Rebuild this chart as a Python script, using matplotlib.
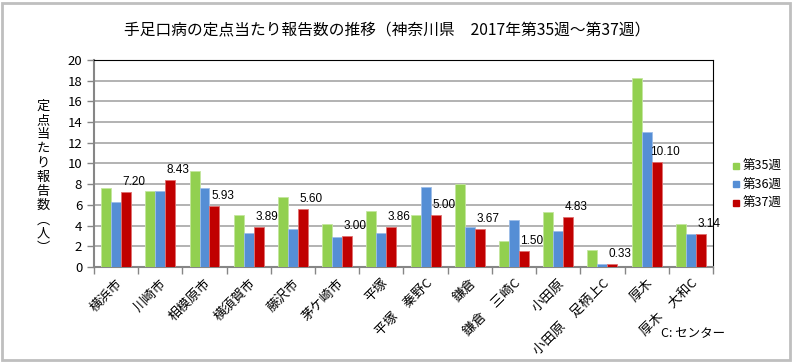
import matplotlib.pyplot as plt
import numpy as np
from matplotlib.patches import Rectangle
from matplotlib.lines import Line2D

plt.rcParams['font.family'] = ['Noto Sans CJK JP', 'DejaVu Sans']

areas = ['横浜市', '川崎市', '相模原市', '横須賀市', '藤沢市', '茅ケ崎市', '平塚',
         '平塚　秦野C', '鎌倉', '鎌倉　三崎C', '小田原', '小田原　足柄上C', '厚木', '厚木　大和C']
week35 = [7.65, 7.33, 9.25, 4.98, 6.72, 4.13, 5.45, 5.00, 8.00, 2.53, 5.33, 1.67, 18.29, 4.14]
week36 = [6.26, 7.33, 7.63, 3.25, 3.65, 2.86, 3.33, 7.71, 3.83, 4.50, 3.50, 0.29, 13.00, 3.14]
week37 = [7.20, 8.43, 5.93, 3.89, 5.60, 3.00, 3.86, 5.00, 3.67, 1.50, 4.83, 0.33, 10.10, 3.14]
weeks = ['第35週', '第36週', '第37週']
colors = ['#92D050', '#558ED5', '#C00000']
edges = ['#C4E69E', '#9CBDE8', '#E07070']

fig = plt.figure(figsize=(7.95, 3.63), dpi=100)
ax = fig.add_axes([0.1182, 0.2645, 0.7786, 0.5702])

x = np.arange(len(areas))
w = 0.226
for i, vals in enumerate([week35, week36, week37]):
    ax.bar(x + (i - 1) * w, vals, w, color=colors[i], edgecolor=edges[i], linewidth=0.6, zorder=3)

for xi, v in zip(x, week37):
    ax.annotate('%.2f' % v, (xi + w, v), xytext=(8, 4), textcoords='offset pixels',
                ha='center', va='bottom', fontsize=8.5, family=['Liberation Sans'])

ax.set_xlim(-0.5, len(areas) - 0.5)
ax.set_ylim(0, 20)
ax.set_yticks(np.arange(0, 21, 2))
ax.tick_params(axis='y', labelsize=9.5, length=5, color='#868686', width=1)
ax.set_xticks(x)
ax.set_xticklabels(areas, rotation=45, ha='right', rotation_mode='anchor', fontsize=9.5)
ax.tick_params(axis='x', which='major', length=0, pad=7)
ax.set_xticks(np.arange(-0.5, len(areas), 1), minor=True)
ax.tick_params(axis='x', which='minor', length=5, color='#868686', width=1)

ax.yaxis.grid(True, color='#A6A6A6', linewidth=1.2)
ax.set_axisbelow(True)
ax.spines['top'].set_color('black')
ax.spines['right'].set_color('black')
ax.spines['left'].set_color('#868686')
ax.spines['bottom'].set_color('#868686')
ax.spines['left'].set_linewidth(1.5)
ax.spines['bottom'].set_linewidth(1.5)

fig.text(0.487, 0.916, '手足口病の定点当たり報告数の推移（神奈川県　2017年第35週～第37週）',
         ha='center', va='center', fontsize=11.3)
fig.text(0.054, 0.512, '\n'.join('定点当たり報告数︵人︶'), ha='center', va='center',
         fontsize=9.5, linespacing=1.12)
fig.text(0.872, 0.08, 'C: センター', ha='center', va='center', fontsize=9)

handles = [Line2D([], [], marker='s', linestyle='', color=c, markersize=4) for c in colors]
fig.legend(handles, weeks, loc='center left', bbox_to_anchor=(0.912, 0.49), frameon=False,
           fontsize=9, handletextpad=0.1, labelspacing=0.45, handlelength=0.8, borderpad=0)

fig.patches.append(Rectangle((0.003, 0.008), 0.991, 0.984, transform=fig.transFigure,
                             fill=False, edgecolor='#BFBFBF', linewidth=2))

fig.savefig('out.png', dpi=100)
